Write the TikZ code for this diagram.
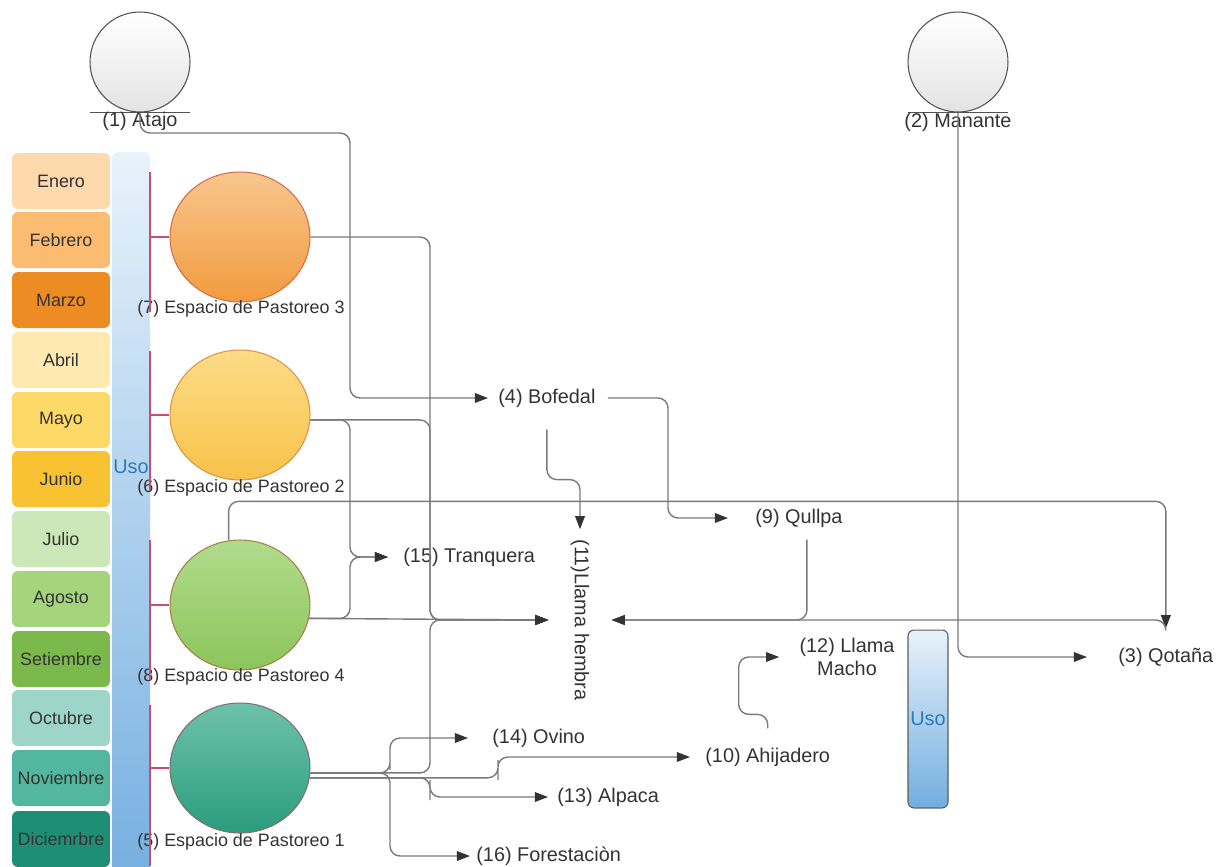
\documentclass[tikz,border=0pt]{standalone}
\usepackage{fontspec}
\setmainfont{Liberation Sans}
\usetikzlibrary{arrows.meta,shapes.geometric,calc}

\definecolor{linea}{HTML}{7A7A7A}
\definecolor{texto}{HTML}{333333}
\definecolor{rojo}{HTML}{C4506E}
\definecolor{usoTop}{HTML}{E8F2FB}
\definecolor{usoBot}{HTML}{72ADE0}
\definecolor{usoTxt}{HTML}{2A7AB8}
% month colours
\definecolor{enero}{HTML}{FDD9AC}
\definecolor{febrero}{HTML}{FBBC72}
\definecolor{marzo}{HTML}{EE8C24}
\definecolor{abril}{HTML}{FEEAB0}
\definecolor{mayo}{HTML}{FDD968}
\definecolor{junio}{HTML}{F9C233}
\definecolor{julio}{HTML}{CDE8B8}
\definecolor{agosto}{HTML}{A4D57C}
\definecolor{setiembre}{HTML}{7CB94C}
\definecolor{octubre}{HTML}{9DD6C8}
\definecolor{noviembre}{HTML}{53B69E}
\definecolor{diciembre}{HTML}{1E8F74}
% grazing space colours
\definecolor{pTresTop}{HTML}{F9C68E}
\definecolor{pTresBot}{HTML}{F29B3E}
\definecolor{pTresLine}{HTML}{D0704A}
\definecolor{pDosTop}{HTML}{FDDC86}
\definecolor{pDosBot}{HTML}{F8C24A}
\definecolor{pDosLine}{HTML}{D89448}
\definecolor{pCuatroTop}{HTML}{B0DC8C}
\definecolor{pCuatroBot}{HTML}{8CC55C}
\definecolor{pCuatroLine}{HTML}{A8804A}
\definecolor{pUnoTop}{HTML}{6CC2AA}
\definecolor{pUnoBot}{HTML}{2C9C7E}
\definecolor{pUnoLine}{HTML}{80706E}

\begin{document}
\begin{tikzpicture}[x=0.02cm, y=-0.02cm,
    lbl/.style={text=texto, inner sep=0, font=\fontsize{11.3}{13}\selectfont},
    sub/.style={text=texto, inner sep=0, font=\fontsize{10.2}{12}\selectfont},
    mes/.style={rectangle, rounded corners=0.12cm, minimum width=1.96cm,
      minimum height=1.12cm, inner sep=0, text=texto,
      font=\fontsize{10.2}{12}\selectfont},
    circ/.style={circle, minimum size=2cm, inner sep=0, draw=texto!85,
      line width=0.6pt, top color=white, bottom color=gray!22},
    pasto/.style={ellipse, minimum width=2.8cm, minimum height=2.6cm,
      inner sep=0, line width=0.6pt},
    brack/.style={draw=rojo, line width=0.6pt},
    conn/.style={draw=linea, line width=0.8pt, rounded corners=0.2cm,
      -{Triangle[length=7.5pt, width=5.5pt, color=texto]}},
    usobar/.style={rectangle, rounded corners=0.12cm, minimum width=0.8cm,
      minimum height=3.56cm, inner sep=0, draw=texto!80, line width=0.6pt,
      top color=usoTop, bottom color=usoBot, text=usoTxt,
      font=\fontsize{11.3}{13}\selectfont}]

    % Page
    \useasboundingbox (0,0) rectangle (1216,866);
    \clip (0,0) rectangle (1216,866);

    % Months
    \node[mes, fill=enero] (enero) at (61,181) {Enero};
    \node[mes, fill=febrero] (febrero) at (61,240) {Febrero};
    \node[mes, fill=marzo] (marzo) at (61,300) {Marzo};
    \node[mes, fill=abril] (abril) at (61,360) {Abril};
    \node[mes, fill=mayo] (mayo) at (61,420) {Mayo};
    \node[mes, fill=junio] (junio) at (61,479) {Junio};
    \node[mes, fill=julio] (julio) at (61,539) {Julio};
    \node[mes, fill=agosto] (agosto) at (61,599) {Agosto};
    \node[mes, fill=setiembre] (setiembre) at (61,659) {Setiembre};
    \node[mes, fill=octubre] (octubre) at (61,718) {Octubre};
    \node[mes, fill=noviembre] (noviembre) at (61,778) {Noviembre};
    \node[mes, fill=diciembre] (diciembre) at (61,839) {Diciemrbre};

    % Uso bar
    \shade[top color=usoTop, bottom color=usoBot, rounded corners=0.12cm]
      (112,152) rectangle (150,900);
    \node[lbl, text=usoTxt] (uso1) at (131,467) {Uso};

    % Atajo and Manante
    \node[circ] (atajo) at (140,62) {};
    \draw[texto!85, line width=0.6pt] ($(atajo.south)+(-50,0)$) -- ($(atajo.south)+(50,0)$);
    \node[lbl] (atajolbl) at (140,121) {(1) Atajo};
    \node[circ] (manante) at (958,62) {};
    \draw[texto!85, line width=0.6pt] ($(manante.south)+(-50,0)$) -- ($(manante.south)+(50,0)$);
    \node[lbl] (mananteLbl) at (958,122) {(2) Manante};

    % Grazing spaces
    \node[pasto, draw=pTresLine, top color=pTresTop, bottom color=pTresBot] (p3) at (240,237) {};
    \node[pasto, draw=pDosLine, top color=pDosTop, bottom color=pDosBot] (p2) at (240,415) {};
    \node[pasto, draw=pCuatroLine, top color=pCuatroTop, bottom color=pCuatroBot] (p4) at (240,605) {};
    \node[pasto, draw=pUnoLine, top color=pUnoTop, bottom color=pUnoBot] (p1) at (240,768) {};
    \node[sub] (p3lbl) at (241,309) {(7) Espacio de Pastoreo 3};
    \node[sub] (p2lbl) at (241,488) {(6) Espacio de Pastoreo 2};
    \node[sub] (p4lbl) at (241,677) {(8) Espacio de Pastoreo 4};
    \node[sub] (p1lbl) at (241,842) {(5) Espacio de Pastoreo 1};

    % Brackets from the bar
    \draw[brack] (150,172) -- (150,312) (150,237) -- (p3.west);
    \draw[brack] (150,351) -- (150,490) (150,415) -- (p2.west);
    \draw[brack] (150,540) -- (150,680) (150,605) -- (p4.west);
    \draw[brack] (150,705) -- (150,866) (150,768) -- (p1.west);

    % Labels
    \node[lbl, right] (bofedal) at (498,398) {(4) Bofedal};
    \node[lbl, right] (qullpa) at (755,518) {(9) Qullpa};
    \node[lbl, right] (tranq) at (403,557) {(15) Tranquera};
    \node[lbl, rotate=-90] (hembra) at (580,620) {(11)Llama hembra};
    \node[lbl, align=center] (macho) at (847,657) {(12) Llama\\Macho};
    \node[lbl, right] (qotana) at (1118,657) {(3) Qotaña};
    \node[lbl, right] (ovino) at (492,738) {(14) Ovino};
    \node[lbl, right] (ahija) at (705,757) {(10) Ahijadero};
    \node[lbl, right] (alpaca) at (557,797) {(13) Alpaca};
    \node[lbl, right] (forest) at (476,856) {(16) Forestaciòn};
    \node[usobar] (uso2) at (928,719) {Uso};

    % Atajo -> Bofedal
    \draw[conn] (atajo.south) |- (350,133) |- ($(bofedal.west)+(-10,0)$);

    % Grazing spaces -> Llama hembra
    \draw[conn] (p3.east) -| (430,500) |- ($(hembra.south)+(-22,0)$);
    \draw[conn] (p2.-4) -| (430,500) |- ($(hembra.south)+(-22,0)$);
    \draw[conn] (p4.-11) -- ($(hembra.south)+(-22,0)$);
    \draw[conn] (p1.-4) -| (430,700) |- ($(hembra.south)+(-22,0)$);

    % Tranquera
    \draw[conn] (p2.-4) -| (350,480) |- ($(tranq.west)+(-15,0)$);
    \draw[conn] (p4.-11) -| (350,580) |- ($(tranq.west)+(-15,0)$);

    % Bofedal -> Qullpa, Llama hembra
    \draw[conn] ($(bofedal.east)+(12,0)$) -| (668,480) |- ($(qullpa.west)+(-27,0)$);
    \draw[conn] ($(bofedal.south)+(0,22)$) -- ++(0,50) -| ($(hembra.west)+(0,-10)$);

    % Qullpa -> Llama hembra
    \draw[conn] ($(qullpa.south)+(8,12)$) |- ($(hembra.north)+(22,0)$);

    % Qotana
    \draw[conn] (p4.100) -- ++(0,-39) -| ($(qotana.north)+(0,-19)$);
    \draw[conn] ($(qotana.north)+(0,-17)$) |- ($(hembra.north)+(22,0)$);
    \draw[conn] (manante.south) |- ($(qotana.west)+(-31,0)$);

    % Ahijadero -> Llama Macho
    \draw[conn] ($(ahija.north)+(0,-19)$) -- ++(0,-14) -- ++(-29,0) |- ($(macho.west)+(-20,0)$);

    % Grazing space 1 branches
    \draw[conn] (p1.-4) -| (390,760) |- ($(ovino.west)+(-24,0)$);
    \draw[conn] (p1.-4) -| (390,800) |- ($(forest.west)+(-6,0)$);
    \draw[conn] (p1.-8) -| (430,790) |- ($(alpaca.west)+(-9,0)$);
    \draw[conn] (p1.-8) -| (498,770) |- ($(ahija.west)+(-15,0)$);
\end{tikzpicture}
\end{document}
